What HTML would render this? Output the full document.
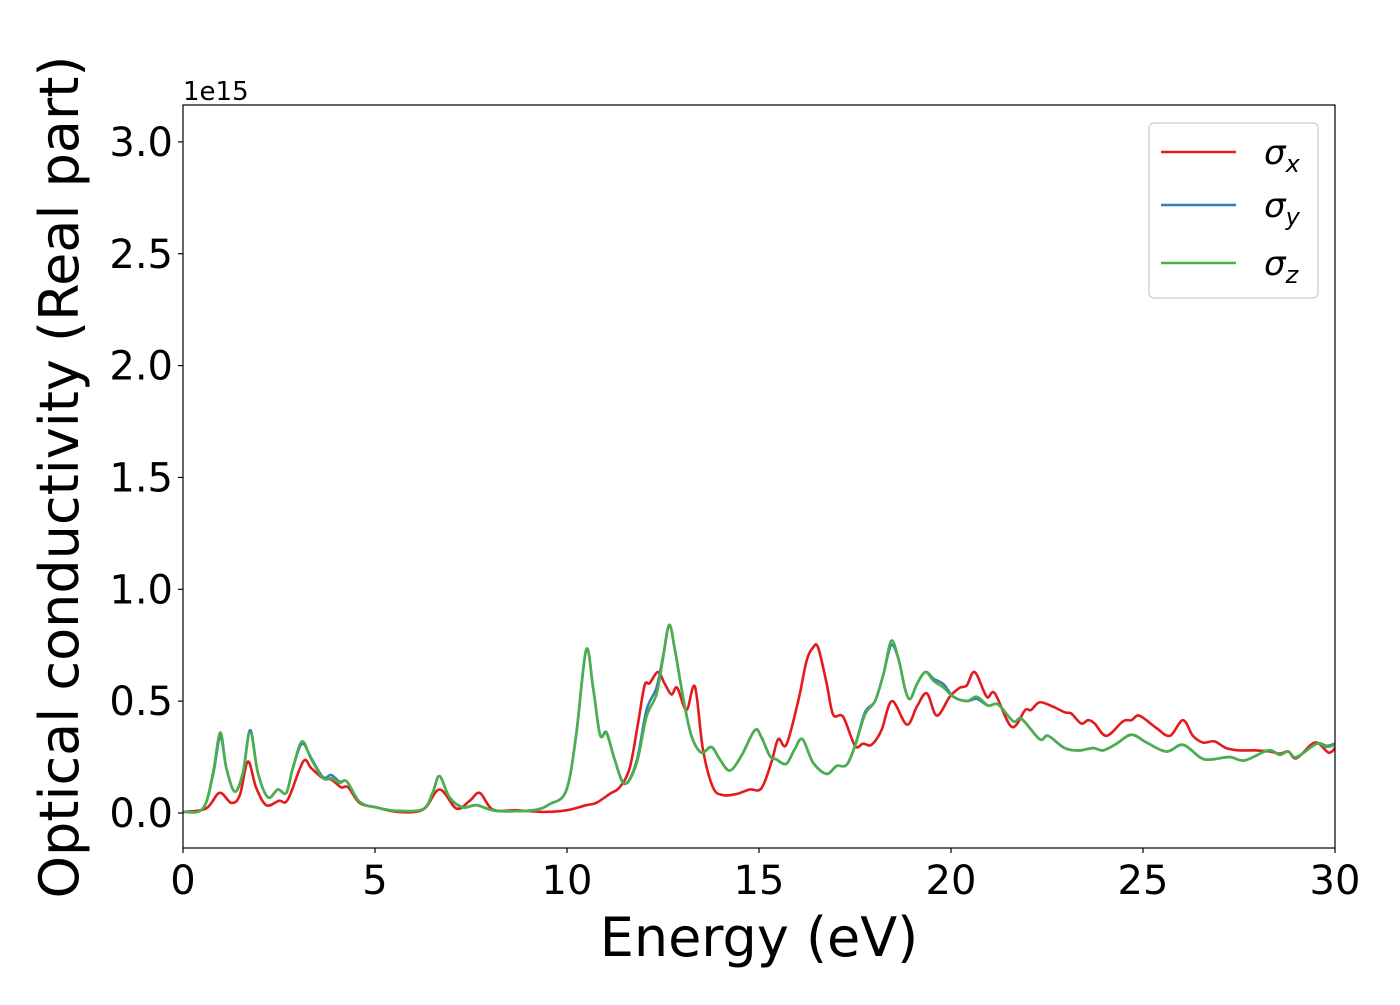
<!DOCTYPE html>
<html><head><meta charset="utf-8"><style>
body{margin:0;background:#fff;}
svg text{font-family:"DejaVu Sans","Liberation Sans",sans-serif;fill:#000;}
</style></head><body>
<svg id="chart" width="1400" height="1000" xmlns="http://www.w3.org/2000/svg">
<g id="plot"></g>
<g id="axes"></g>
</svg>
<script>
const xTicks=[0,5,10,15,20,25,30];
const yTicks=[0.0,0.5,1.0,1.5,2.0,2.5,3.0];
const yTickLabels=["0.0","0.5","1.0","1.5","2.0","2.5","3.0"];
const seriesNames=["σx","σy","σz"];
const redE=[0,0.6,0.95,1.26,1.48,1.69,1.9,2.17,2.5,2.73,3.13,3.34,3.65,3.86,4.12,4.3,4.6,5.03,5.6,6.25,6.68,7.12,7.47,7.73,8.07,8.68,9.38,9.98,10.5,10.76,11.11,11.37,11.63,11.85,12.02,12.15,12.37,12.54,12.72,12.87,13.11,13.33,13.54,13.8,14.06,14.41,14.76,15.06,15.32,15.5,15.71,16.02,16.24,16.41,16.54,16.76,16.93,17.19,17.5,17.71,17.93,18.19,18.46,18.85,19.11,19.37,19.63,19.97,20.23,20.41,20.62,20.93,21.14,21.58,21.93,22.08,22.31,22.66,22.96,23.13,23.39,23.57,23.74,24.05,24.48,24.7,24.91,25.35,25.7,26.04,26.3,26.56,26.86,27.17,27.52,27.95,28.3,28.56,28.78,29.0,29.48,29.83,30];
const redV=[0.005,0.02,0.09,0.045,0.08,0.23,0.115,0.035,0.055,0.06,0.23,0.2,0.155,0.15,0.115,0.115,0.045,0.025,0.005,0.015,0.105,0.02,0.055,0.09,0.015,0.012,0.005,0.012,0.035,0.045,0.085,0.115,0.2,0.4,0.57,0.58,0.63,0.58,0.53,0.56,0.46,0.565,0.285,0.115,0.08,0.085,0.105,0.11,0.225,0.33,0.305,0.5,0.68,0.74,0.74,0.58,0.44,0.43,0.3,0.31,0.305,0.37,0.5,0.395,0.475,0.535,0.435,0.52,0.56,0.57,0.63,0.52,0.535,0.385,0.46,0.46,0.495,0.475,0.45,0.445,0.4,0.415,0.4,0.345,0.41,0.415,0.435,0.38,0.345,0.415,0.345,0.315,0.32,0.29,0.28,0.28,0.275,0.265,0.275,0.245,0.315,0.27,0.29];
const greenE=[0,0.52,0.78,0.97,1.13,1.35,1.56,1.75,1.95,2.21,2.47,2.69,2.86,3.1,3.34,3.65,3.86,4.08,4.27,4.6,5.03,5.56,6.25,6.5,6.68,6.94,7.29,7.64,8.16,9.11,9.55,9.98,10.24,10.5,10.68,10.86,11.03,11.24,11.5,11.81,12.07,12.33,12.5,12.66,12.8,13.02,13.24,13.5,13.76,13.98,14.24,14.54,14.89,15.06,15.28,15.45,15.71,15.93,16.13,16.41,16.76,17.02,17.28,17.5,17.76,18.02,18.24,18.44,18.63,18.81,18.94,19.11,19.33,19.55,19.81,20.06,20.41,20.67,20.97,21.23,21.62,21.84,22.31,22.53,22.96,23.35,23.7,23.96,24.31,24.7,25.09,25.61,26.04,26.52,26.82,27.26,27.65,28.26,28.56,28.78,29.0,29.52,29.78,30];
const greenV=[0.005,0.02,0.18,0.36,0.2,0.095,0.18,0.36,0.18,0.07,0.105,0.09,0.2,0.32,0.24,0.155,0.155,0.135,0.14,0.05,0.025,0.01,0.017,0.09,0.165,0.07,0.025,0.035,0.01,0.012,0.04,0.1,0.35,0.73,0.56,0.35,0.355,0.24,0.13,0.22,0.43,0.53,0.69,0.84,0.74,0.52,0.345,0.27,0.295,0.24,0.19,0.255,0.37,0.34,0.255,0.24,0.22,0.285,0.33,0.225,0.175,0.21,0.215,0.3,0.44,0.5,0.62,0.77,0.69,0.55,0.51,0.575,0.63,0.59,0.56,0.52,0.5,0.52,0.48,0.485,0.41,0.42,0.33,0.345,0.29,0.28,0.29,0.28,0.31,0.35,0.315,0.275,0.305,0.245,0.24,0.25,0.235,0.28,0.26,0.275,0.25,0.31,0.295,0.305];
const blueE=greenE.slice();
const blueV=[0.005,0.02,0.17,0.34,0.2,0.095,0.18,0.37,0.18,0.07,0.105,0.09,0.2,0.31,0.245,0.16,0.17,0.14,0.14,0.05,0.025,0.01,0.017,0.09,0.165,0.07,0.025,0.035,0.01,0.012,0.04,0.1,0.35,0.73,0.56,0.35,0.36,0.24,0.13,0.23,0.46,0.56,0.7,0.84,0.74,0.52,0.345,0.27,0.295,0.24,0.19,0.255,0.37,0.34,0.255,0.24,0.22,0.285,0.33,0.225,0.175,0.21,0.215,0.3,0.45,0.5,0.62,0.75,0.69,0.55,0.51,0.575,0.63,0.6,0.575,0.52,0.5,0.51,0.48,0.485,0.41,0.42,0.33,0.345,0.29,0.28,0.29,0.28,0.31,0.35,0.315,0.275,0.305,0.245,0.24,0.25,0.235,0.28,0.26,0.275,0.25,0.31,0.3,0.31];

const L=183,R=1335,T=105,B=848;
const xMin=0,xMax=30,y0px=813,pxPerUnit=223.7;
function sx(e){return L+(e-xMin)/(xMax-xMin)*(R-L);}
function sy(v){return y0px-v*pxPerUnit;}
const NS="http://www.w3.org/2000/svg";
function mk(tag,attrs,parent){const el=document.createElementNS(NS,tag);for(const k in attrs)el.setAttribute(k,attrs[k]);parent.appendChild(el);return el;}
const plot=document.getElementById('plot');
const axes=document.getElementById('axes');
const clip=mk('clipPath',{id:'clp'},document.getElementById('chart'));
mk('rect',{x:L,y:T,width:R-L,height:B-T},clip);
plot.setAttribute('clip-path','url(#clp)');
function smoothPath(E,V){
  const p=E.map((e,i)=>[sx(e),sy(V[i])]);
  let d='M'+p[0][0].toFixed(1)+','+p[0][1].toFixed(1);
  for(let i=0;i<p.length-1;i++){
    const p0=p[Math.max(0,i-1)],p1=p[i],p2=p[i+1],p3=p[Math.min(p.length-1,i+2)];
    const c1=[p1[0]+(p2[0]-p0[0])/6,p1[1]+(p2[1]-p0[1])/6];
    const c2=[p2[0]-(p3[0]-p1[0])/6,p2[1]-(p3[1]-p1[1])/6];
    d+=' C'+c1[0].toFixed(1)+','+c1[1].toFixed(1)+' '+c2[0].toFixed(1)+','+c2[1].toFixed(1)+' '+p2[0].toFixed(1)+','+p2[1].toFixed(1);
  }
  return d;
}
const series=[[redE,redV,'#e41a1c','sigma-x-line'],[blueE,blueV,'#377eb8','sigma-y-line'],[greenE,greenV,'#4daf4a','sigma-z-line']];
series.forEach(s=>{
  const el=mk('path',{d:smoothPath(s[0],s[1]),fill:'none',stroke:s[2],'stroke-width':2.6,'stroke-linejoin':'round'},plot);
  
  
});
const frame=mk('rect',{x:L,y:T,width:R-L,height:B-T,fill:'none',stroke:'#000','stroke-width':1.2},axes);


xTicks.forEach(t=>{
  const x=sx(t);
  mk('line',{x1:x,y1:B,x2:x,y2:B+5,stroke:'#000','stroke-width':1.2},axes);
  const tx=mk('text',{x:x,y:B+46,'font-size':40,'text-anchor':'middle'},axes);
  tx.textContent=String(t);
  
  
});
yTicks.forEach((t,i)=>{
  const y=sy(t);
  mk('line',{x1:L-5,y1:y,x2:L,y2:y,stroke:'#000','stroke-width':1.2},axes);
  const tx=mk('text',{x:L-10,y:y+14,'font-size':40,'text-anchor':'end'},axes);
  tx.textContent=yTickLabels[i];
  
  
});
</script>
<svg style="position:absolute;left:0;top:0" width="1400" height="1000" xmlns="http://www.w3.org/2000/svg">
<text x="183" y="100" font-size="26" font-family="DejaVu Sans, Liberation Sans, sans-serif">1e15</text>
<text x="759" y="956" font-size="54" text-anchor="middle" font-family="DejaVu Sans, Liberation Sans, sans-serif">Energy (eV)</text>
<text transform="translate(78,477) rotate(-90)" font-size="54" text-anchor="middle" font-family="DejaVu Sans, Liberation Sans, sans-serif">Optical conductivity (Real part)</text>
<g>
<rect x="1149" y="123" width="169" height="175" rx="5" fill="#fff" fill-opacity="0.8" stroke="#ccc" stroke-width="1.2"/>
<line x1="1161" y1="152" x2="1236" y2="152" stroke="#e41a1c" stroke-width="2.6"/>
<line x1="1161" y1="205" x2="1236" y2="205" stroke="#377eb8" stroke-width="2.6"/>
<line x1="1161" y1="263" x2="1236" y2="263" stroke="#4daf4a" stroke-width="2.6"/>
<text x="1264" y="164" font-size="34" font-style="italic" font-family="DejaVu Sans, sans-serif">σ<tspan font-size="24" dy="8">x</tspan></text>
<text x="1264" y="217" font-size="34" font-style="italic" font-family="DejaVu Sans, sans-serif">σ<tspan font-size="24" dy="8">y</tspan></text>
<text x="1264" y="275" font-size="34" font-style="italic" font-family="DejaVu Sans, sans-serif">σ<tspan font-size="24" dy="8">z</tspan></text>
</g>
</svg>
</body></html>
